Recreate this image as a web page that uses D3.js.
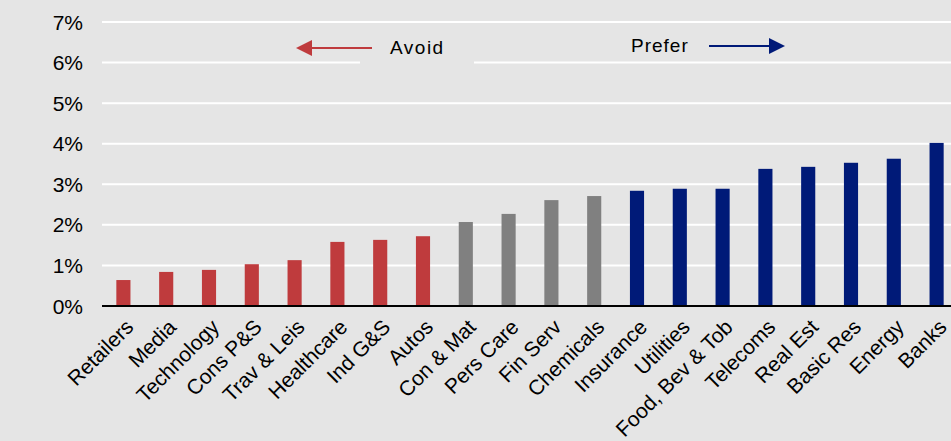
<!DOCTYPE html>
<html lang="en">
<head>
    <meta charset="UTF-8">
    <script src="https://d3js.org/d3.v7.min.js"></script>
    <title>Sector preference</title>
    <style>
        body { margin: 0; background: #e5e5e5; }
        text { font-family: "Liberation Sans", Arial, sans-serif; fill: #000; }
    </style>
</head>
<body>
    <div id="chart"></div>
    <script>
        // sectors, left to right
        const sectors = ["Retailers", "Media", "Technology", "Cons P&S", "Trav & Leis", "Healthcare",
            "Ind G&S", "Autos", "Con & Mat", "Pers Care", "Fin Serv", "Chemicals", "Insurance",
            "Utilities", "Food, Bev & Tob", "Telecoms", "Real Est", "Basic Res", "Energy", "Banks"];
        // values in %
        const values = [0.64, 0.84, 0.89, 1.03, 1.13, 1.58, 1.63, 1.72, 2.07, 2.27, 2.61, 2.71, 2.84,
            2.89, 2.89, 3.38, 3.43, 3.53, 3.63, 4.02];
        const groups = ["avoid", "avoid", "avoid", "avoid", "avoid", "avoid", "avoid", "avoid",
            "neutral", "neutral", "neutral", "neutral", "prefer", "prefer", "prefer", "prefer",
            "prefer", "prefer", "prefer", "prefer"];
        const yTicks = [0, 1, 2, 3, 4, 5, 6, 7];

        const width = 951, height = 441;
        const colors = { avoid: "#bf3b3d", neutral: "#808080", prefer: "#001a78" };

        const svg = d3.select("#chart").append("svg")
            .attr("width", width)
            .attr("height", height);

        svg.append("rect").attr("width", width).attr("height", height).attr("fill", "#e5e5e5");

        const x = d3.scaleBand()
            .domain(sectors)
            .range([102, 958])
            .paddingInner(0.67)
            .paddingOuter(0.335);

        const y = d3.scaleLinear()
            .domain([0, 7])
            .range([306, 22]);

        // gridlines
        svg.selectAll(".grid")
            .data(yTicks.filter(d => d > 0))
            .enter()
            .append("line")
            .attr("x1", 102)
            .attr("x2", width)
            .attr("y1", d => y(d))
            .attr("y2", d => y(d))
            .attr("stroke", "#fff")
            .attr("stroke-width", 2);

        // y tick labels
        svg.selectAll(".ytick")
            .data(yTicks)
            .enter()
            .append("text")
            .attr("x", 83)
            .attr("y", d => y(d))
            .attr("dy", "0.36em")
            .attr("text-anchor", "end")
            .style("font-size", "21px")
            .text(d => d + "%");

        // bars
        svg.selectAll(".bar")
            .data(sectors)
            .enter()
            .append("rect")
            .attr("x", d => x(d))
            .attr("width", x.bandwidth())
            .attr("y", (d, i) => y(values[i]))
            .attr("height", (d, i) => y(0) - y(values[i]))
            .attr("fill", (d, i) => colors[groups[i]]);

        // zero axis
        svg.append("line")
            .attr("x1", 102)
            .attr("x2", width)
            .attr("y1", y(0))
            .attr("y2", y(0))
            .attr("stroke", "#000")
            .attr("stroke-width", 2);

        // category labels
        svg.selectAll(".xlab")
            .data(sectors)
            .enter()
            .append("text")
            .attr("transform", d => `translate(${x(d) + x.bandwidth() / 2 + 1},${y(0) + 12}) rotate(-45)`)
            .attr("text-anchor", "end")
            .attr("dy", "0.7em")
            .style("font-size", "21px")
            .text(d => d);

        // annotations
        const arrow = (x1, x2, yy, color) => {
            const dir = x2 > x1 ? 1 : -1;
            svg.append("line")
                .attr("x1", x1).attr("x2", x2 - dir * 14)
                .attr("y1", yy).attr("y2", yy)
                .attr("stroke", color).attr("stroke-width", 2);
            svg.append("path")
                .attr("d", `M${x2},${yy} L${x2 - dir * 16},${yy - 8} L${x2 - dir * 16},${yy + 8} Z`)
                .attr("fill", color);
        };

        svg.append("rect")
            .attr("x", 360).attr("y", 32).attr("width", 114).attr("height", 32)
            .attr("fill", "#e5e5e5");
        svg.append("text")
            .attr("x", 390).attr("y", 54)
            .style("font-size", "19px")
            .style("letter-spacing", "1.5px")
            .text("Avoid");
        arrow(372, 296, 48, colors.avoid);

        svg.append("text")
            .attr("x", 631).attr("y", 52)
            .style("font-size", "19px")
            .style("letter-spacing", "1px")
            .text("Prefer");
        arrow(709, 785, 46, colors.prefer);
    </script>
</body>
</html>
